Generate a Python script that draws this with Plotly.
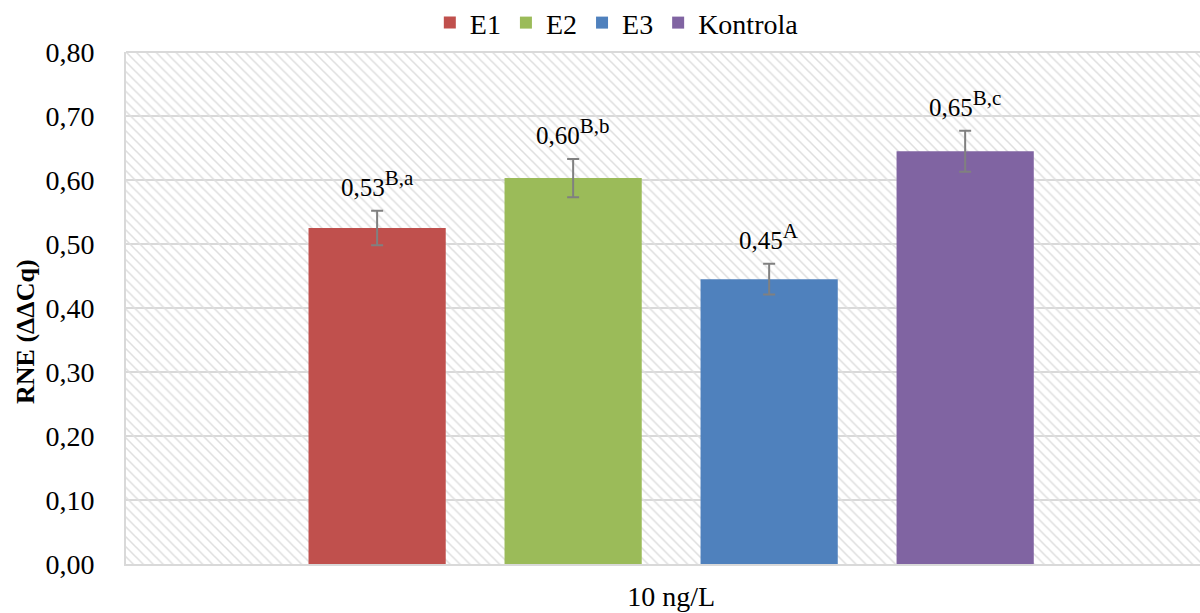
import plotly.graph_objects as go

categories = ["10 ng/L"]
series_names = ["E1", "E2", "E3", "Kontrola"]
values = [0.525, 0.603, 0.445, 0.645]
errors = [0.027, 0.030, 0.024, 0.032]
letters = ["B,a", "B,b", "A", "B,c"]
value_labels = ["0,53", "0,60", "0,45", "0,65"]
colors = ["#C0504D", "#9BBB59", "#4F81BD", "#8064A2"]
y_ticks = [0.0, 0.1, 0.2, 0.3, 0.4, 0.5, 0.6, 0.7, 0.8]

FONT = "Liberation Serif, Times New Roman, serif"
bargap = 0.278
fig = go.Figure()

# hatched plot background (base subplot)
fig.add_trace(go.Bar(
    x=[0.5], y=[max(y_ticks)], width=[1.0], xaxis="x", yaxis="y",
    marker=dict(color="#dedede", line=dict(width=0),
                pattern=dict(shape="\\", size=7, solidity=0.22, fillmode="replace")),
    showlegend=False, hoverinfo="skip",
))

for name, v, e, c in zip(series_names, values, errors, colors):
    fig.add_trace(go.Bar(
        x=categories, y=[v], name=name, xaxis="x2", yaxis="y",
        marker=dict(color=c, line=dict(width=0)),
        error_y=dict(type="data", array=[e], color="#808080", thickness=2, width=6),
    ))

n = len(series_names)
slot = (1 - bargap) / n
annotations = []
for i, (v, e, lab, let) in enumerate(zip(values, errors, value_labels, letters)):
    xc = -(1 - bargap) / 2 + slot * (i + 0.5)
    annotations.append(dict(
        x=xc, y=v + e, xref="x2", yref="y", yanchor="bottom", yshift=8,
        text=f"{lab}<sup><span style='font-size:21px'>{let}</span></sup>", showarrow=False,
        font=dict(family=FONT, size=25, color="black"),
    ))
annotations.append(dict(
    x=(25 - 126) / 1074, xref="paper", y=(561 - 329) / 512, yref="paper",
    xanchor="center", yanchor="middle",
    text="<b>RNE (ΔΔCq)</b>", textangle=-90, showarrow=False,
    font=dict(family=FONT, size=26, color="black"),
))

fig.update_layout(
    width=1200, height=613,
    paper_bgcolor="white", plot_bgcolor="white",
    margin=dict(l=126, r=0, t=52, b=49, autoexpand=False),
    separators=", ",
    barmode="group", bargap=bargap, bargroupgap=0.30,
    font=dict(family=FONT, size=28, color="black"),
    legend=dict(orientation="h", x=0.457, xanchor="center", y=1.008, yanchor="bottom",
                bgcolor="rgba(0,0,0,0)",
                font=dict(family=FONT, size=28), itemwidth=30, traceorder="normal"),
    xaxis=dict(range=[0, 1], visible=False, fixedrange=True),
    xaxis2=dict(overlaying="x", type="category", range=[-0.502, 0.487], automargin=False,
                showgrid=False, showline=True, linecolor="#d9d9d9", linewidth=2,
                ticks="", tickfont=dict(family=FONT, size=28), ticklabelstandoff=6),
    yaxis=dict(range=[0, 0.8], tickvals=y_ticks, tickformat=".2f", automargin=False,
               showgrid=True, gridcolor="#d9d9d9", gridwidth=2,
               showline=True, linecolor="#d9d9d9", linewidth=2, mirror=False,
               zeroline=False, ticks="", ticklabelstandoff=24,
               tickfont=dict(family=FONT, size=28)),
    annotations=annotations,
)
fig.add_shape(type="line", xref="paper", yref="paper", x0=0, x1=1, y0=1, y1=1,
              line=dict(color="#d9d9d9", width=2))

fig.write_html("out.html", config={"displayModeBar": False},
               post_script="document.body.style.margin='0';document.body.style.overflow='hidden';")
